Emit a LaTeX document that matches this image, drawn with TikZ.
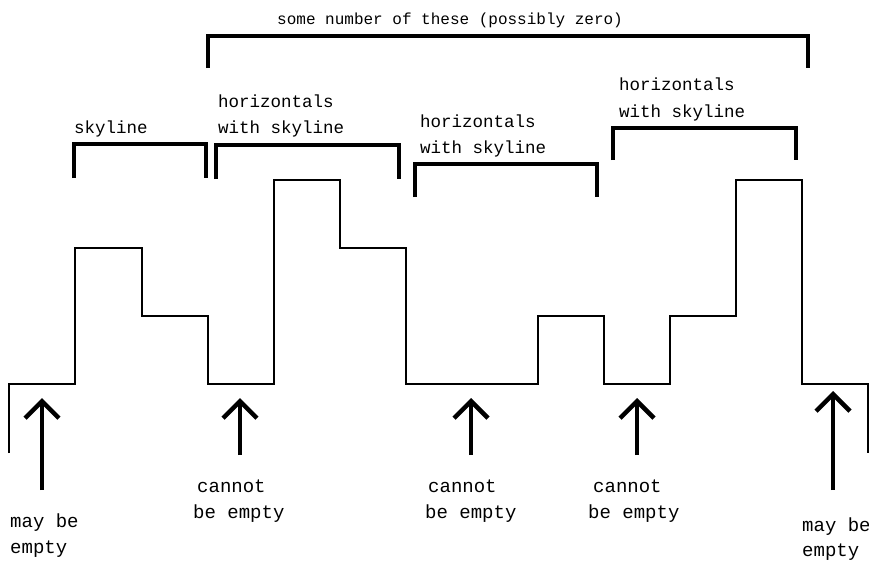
\documentclass[tikz,border=0pt]{standalone}
\usepackage{fontspec}
\setmainfont{Liberation Mono}
\usetikzlibrary{arrows.meta}
\begin{document}
\begin{tikzpicture}[x=1pt,y=-1pt,
  sky/.style={line width=1.5pt,line join=miter},
  brace/.style={line width=3.5pt,line join=miter},
  uparrow/.style={line width=4.5pt,-{Straight Barb[length=17pt,width=34pt]}},
  lbl/.style={inner sep=0pt,anchor=base west,font=\fontsize{17.5}{20}\selectfont},
  blbl/.style={inner sep=0pt,anchor=base west,font=\fontsize{19}{22}\selectfont},
  ttl/.style={inner sep=0pt,anchor=base west,font=\fontsize{16}{19}\selectfont}]
\useasboundingbox (0,0) rectangle (869,565);
\fill[white] (0,0) rectangle (869,565);
% skyline
\draw[sky] (9,453) -- (9,384) -- (75,384) -- (75,248) -- (142,248) -- (142,316)
  -- (208,316) -- (208,384) -- (274,384) -- (274,180) -- (340,180) -- (340,248)
  -- (406,248) -- (406,384) -- (538,384) -- (538,316) -- (604,316) -- (604,384)
  -- (670,384) -- (670,316) -- (736,316) -- (736,180) -- (802,180) -- (802,384)
  -- (868,384) -- (868,453);
% brackets
\draw[brace] (208,68) -- (208,36) -- (808,36) -- (808,68);
\draw[brace] (74,178) -- (74,144) -- (206,144) -- (206,178);
\draw[brace] (216,179) -- (216,145) -- (399,145) -- (399,179);
\draw[brace] (415,197) -- (415,164) -- (597,164) -- (597,197);
\draw[brace] (613,160) -- (613,128) -- (796,128) -- (796,160);
% labels above
\node[ttl] (title) at (277,24) {some number of these (possibly zero)};
\node[lbl] (sk) at (74,133) {skyline};
\node[lbl] (h1a) at (218,107) {horizontals};
\node[lbl] (h1b) at (218,133) {with skyline};
\node[lbl] (h2a) at (420,127) {horizontals};
\node[lbl] (h2b) at (420,153) {with skyline};
\node[lbl] (h3a) at (619,90) {horizontals};
\node[lbl] (h3b) at (619,117) {with skyline};
% arrows
\coordinate (a1s) at (42,490); \coordinate (a1t) at (42,398);
\coordinate (a2s) at (240,455); \coordinate (a2t) at (240,398);
\coordinate (a3s) at (471,455); \coordinate (a3t) at (471,398);
\coordinate (a4s) at (637,455); \coordinate (a4t) at (637,398);
\coordinate (a5s) at (833,490); \coordinate (a5t) at (833,391);
\draw[uparrow] (a1s) -- (a1t);
\draw[uparrow] (a2s) -- (a2t);
\draw[uparrow] (a3s) -- (a3t);
\draw[uparrow] (a4s) -- (a4t);
\draw[uparrow] (a5s) -- (a5t);
% labels below
\node[blbl] (m1a) at (10,527) {may be};
\node[blbl] (m1b) at (10,553) {empty};
\node[blbl] (c1a) at (197,492) {cannot};
\node[blbl] (c1b) at (193,518) {be empty};
\node[blbl] (c2a) at (428,492) {cannot};
\node[blbl] (c2b) at (425,518) {be empty};
\node[blbl] (c3a) at (593,492) {cannot};
\node[blbl] (c3b) at (588,518) {be empty};
\node[blbl] (m2a) at (802,531) {may be};
\node[blbl] (m2b) at (802,556) {empty};
\end{tikzpicture}
\end{document}
